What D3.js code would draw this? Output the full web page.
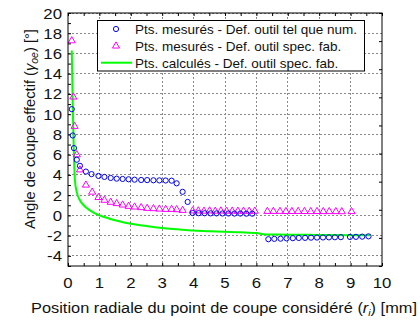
<!DOCTYPE html>
<html><head><meta charset="utf-8">
<script src="https://cdn.jsdelivr.net/npm/d3@7"></script>
<style>body{margin:0;background:#fff}svg{display:block;font-family:"Liberation Sans",Arial,sans-serif}</style>
</head><body><svg id="c" width="420" height="322"></svg>
<script>
const xTicks = [0,1,2,3,4,5,6,7,8,9,10];
const yTicks = [-4,-2,0,2,4,6,8,10,12,14,16,18,20];

const blueX = [0.12,0.15,0.19,0.28,0.38,0.57,0.75,0.97,1.16,1.36,1.55,1.74,1.93,2.12,2.33,2.52,2.72,2.91,3.11,3.30,3.46,3.65,3.81,3.97,4.16,4.35,4.54,4.73,4.92,5.11,5.30,5.49,5.68,5.87,6.38,6.57,6.77,6.96,7.16,7.35,7.55,7.74,7.93,8.12,8.31,8.50,8.69,8.98,9.17,9.37,9.57];
const blueY = [10.5,7.9,6.65,5.5,4.9,4.33,4.08,3.9,3.8,3.7,3.63,3.6,3.57,3.53,3.5,3.49,3.47,3.46,3.45,3.43,3.17,2.33,1.33,0.23,0.22,0.21,0.2,0.2,0.19,0.19,0.18,0.18,0.17,0.17,-2.35,-2.32,-2.3,-2.27,-2.25,-2.23,-2.22,-2.2,-2.19,-2.18,-2.17,-2.16,-2.15,-2.13,-2.12,-2.1,-2.07];

const magX = [0.12,0.17,0.21,0.28,0.38,0.57,0.77,0.97,1.16,1.36,1.55,1.74,1.93,2.12,2.33,2.52,2.72,2.91,3.11,3.30,3.46,3.65,3.97,4.15,4.33,4.51,4.69,4.87,5.05,5.23,5.41,5.59,5.77,5.95,6.35,6.54,6.75,6.94,7.13,7.33,7.53,7.73,7.93,8.13,8.32,8.53,8.72,9.03];
const magY = [17.26,11.7,8.8,6.0,4.5,3.0,2.3,1.77,1.5,1.3,1.17,1.03,0.9,0.83,0.77,0.7,0.67,0.63,0.6,0.6,0.57,0.5,0.45,0.45,0.42,0.45,0.42,0.44,0.42,0.43,0.42,0.42,0.41,0.42,0.4,0.4,0.4,0.39,0.39,0.4,0.39,0.38,0.39,0.38,0.38,0.38,0.37,0.38];

const greenX = [0.12,0.15,0.18,0.22,0.28,0.38,0.5,0.7,1.0,1.3,1.6,2.0,2.5,3.0,3.5,4.0,4.5,5.0,5.5,6.0,6.3,7.0,8.0,9.0,9.62];
const greenY = [16.3,11,7,3.5,2.3,1.5,1.0,0.5,0.0,-0.3,-0.55,-0.83,-1.05,-1.25,-1.38,-1.5,-1.57,-1.62,-1.67,-1.75,-1.88,-1.9,-1.93,-1.95,-1.97];

const legendLabels = ["Pts. mesurés - Def. outil tel que num.","Pts. mesurés - Def. outil spec. fab.","Pts. calculés - Def. outil spec. fab."];

const L=68,R=382,T=13,B=266;
const x=d3.scaleLinear().domain([0,10]).range([L,R]);
const y=d3.scaleLinear().domain([-5,20]).range([B,T]);
const svg=d3.select("#c");

// grid
const g=svg.append("g");
g.selectAll("line.vx").data(xTicks.slice(1,-1)).enter().append("line")
 .attr("x1",d=>x(d)).attr("x2",d=>x(d)).attr("y1",T).attr("y2",B)
 .attr("stroke","#8a8a8a").attr("stroke-dasharray","2,2").attr("shape-rendering","crispEdges");
g.selectAll("line.hy").data(yTicks).enter().append("line")
 .attr("x1",L).attr("x2",R).attr("y1",d=>y(d)).attr("y2",d=>y(d))
 .attr("stroke","#8a8a8a").attr("stroke-dasharray","2,2").attr("shape-rendering","crispEdges");

// axes (inward ticks)
const xMinor=d3.range(0,10.01,0.5);
const yMinor=d3.range(-5,20.01,1);
svg.append("g").attr("transform",`translate(0,${B})`)
 .call(d3.axisTop(x).tickValues(xMinor).tickSize(3).tickFormat(""))
 .call(a=>a.select(".domain").remove());
svg.append("g").attr("transform",`translate(0,${T})`)
 .call(d3.axisBottom(x).tickValues(xMinor).tickSize(3).tickFormat(""))
 .call(a=>a.select(".domain").remove());
svg.append("g").attr("transform",`translate(${L},0)`)
 .call(d3.axisRight(y).tickValues(yMinor).tickSize(3).tickFormat(""))
 .call(a=>a.select(".domain").remove());
const yR=d3.scaleLinear().domain([0,9]).range([B,T]);
svg.append("g").attr("transform",`translate(${R},0)`)
 .call(d3.axisLeft(yR).tickValues(d3.range(0,10)).tickSize(3).tickFormat(""))
 .call(a=>a.select(".domain").remove());
svg.selectAll(".tick line").attr("stroke","#000");

// tick labels (slightly wide, as in the reference)
svg.append("g").selectAll("text").data(xTicks).enter().append("text")
 .attr("transform",d=>`translate(${x(d)},287.5) scale(1.12,1)`).attr("text-anchor","middle")
 .attr("font-size",15).attr("fill","#111").text(d=>d);
svg.append("g").selectAll("text").data(yTicks).enter().append("text")
 .attr("transform",d=>`translate(62,${y(d)+5.5}) scale(1.12,1)`).attr("text-anchor","end")
 .attr("font-size",15).attr("fill","#111").text(d=>d);

// green line
const gd=greenX.map((v,i)=>[v,greenY[i]]);
svg.append("path").datum(gd)
 .attr("d",d3.line().x(d=>x(d[0])).y(d=>y(d[1])).curve(d3.curveMonotoneX))
 .attr("fill","none").attr("stroke","#00ff00").attr("stroke-width",2);

// magenta triangles
const tri=d3.symbol(d3.symbolTriangle).size(22);
svg.append("g").selectAll("path").data(magX.map((v,i)=>[v,magY[i]])).enter().append("path")
 .attr("d",tri).attr("transform",d=>`translate(${x(d[0])},${y(d[1])})`)
 .attr("fill","none").attr("stroke","#ff00ff").attr("stroke-width",1);

// blue circles
svg.append("g").selectAll("circle").data(blueX.map((v,i)=>[v,blueY[i]])).enter().append("circle")
 .attr("cx",d=>x(d[0])).attr("cy",d=>y(d[1])).attr("r",2.6)
 .attr("fill","none").attr("stroke","#0000ff").attr("stroke-width",1);

// frame
svg.append("rect").attr("x",L).attr("y",T).attr("width",R-L).attr("height",B-T)
 .attr("fill","none").attr("stroke","#000").attr("stroke-width",1);

// legend
const lg=svg.append("g");
lg.append("rect").attr("x",97.5).attr("y",20.5).attr("width",267).attr("height",50.5)
 .attr("fill","#fff").attr("stroke","#000").attr("stroke-width",1);
const rows=[29,46,62.7];
lg.append("circle").attr("cx",116).attr("cy",rows[0]).attr("r",2.6).attr("fill","none").attr("stroke","#0000ff");
lg.append("path").attr("d",tri).attr("transform",`translate(116,${rows[1]})`).attr("fill","none").attr("stroke","#ff00ff");
lg.append("line").attr("x1",101).attr("x2",132).attr("y1",rows[2]).attr("y2",rows[2]).attr("stroke","#00ff00").attr("stroke-width",2);
lg.selectAll("text").data(legendLabels).enter().append("text")
 .attr("x",135).attr("y",(d,i)=>rows[i]+4.8).attr("font-size",13.5).attr("fill","#111").text(d=>d);

// axis titles, stretched horizontally to the reference width
function fit(sel,target){
  const w=sel.node().getComputedTextLength();
  return target/w;
}
const xg=svg.append("g");
const xt=xg.append("text").attr("text-anchor","middle").attr("font-size",14).attr("fill","#111");
xt.append("tspan").text("Position radiale du point de coupe considéré (");
xt.append("tspan").attr("font-style","italic").text("r");
xt.append("tspan").attr("font-size",9).attr("dy",3).attr("font-style","italic").text("i");
xt.append("tspan").attr("dy",-3).text(") [mm]");
xg.attr("transform",`translate(224,312.5) scale(${fit(xt,386)},1)`);

const yg=svg.append("g");
const yt=yg.append("text").attr("text-anchor","middle").attr("font-size",14).attr("fill","#111");
yt.append("tspan").text("Angle de coupe effectif (");
yt.append("tspan").attr("font-style","italic").text("γ");
yt.append("tspan").attr("font-size",10).attr("dy",3).attr("font-style","italic").text("oe");
yt.append("tspan").attr("dy",-3).text(") [°]");
yg.attr("transform",`translate(35,129) rotate(-90) scale(${fit(yt,200)},1)`);
</script></body></html>
